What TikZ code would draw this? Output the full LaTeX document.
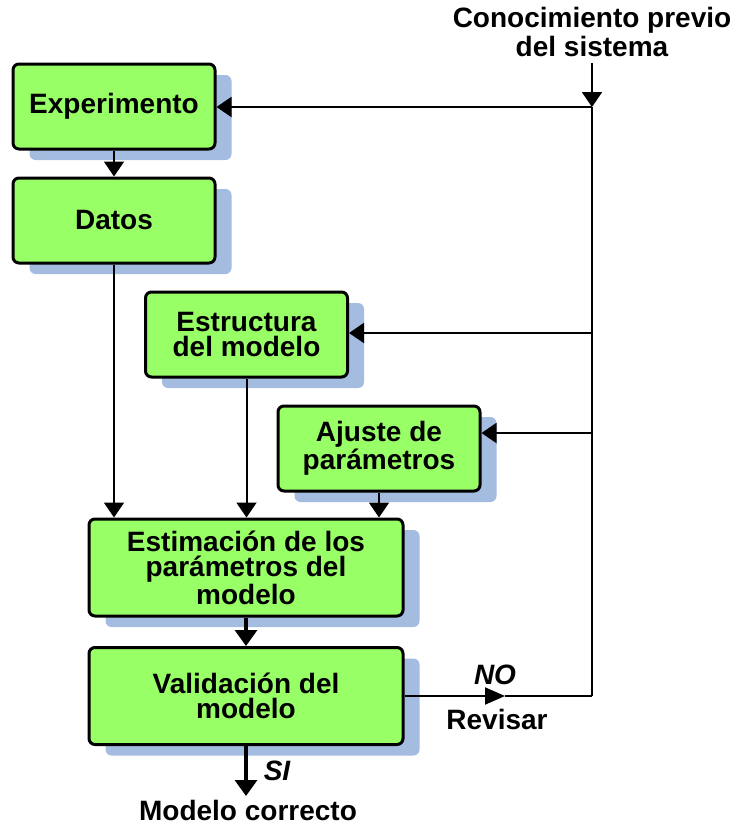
\documentclass[tikz,border=0pt]{standalone}
\usepackage{fontspec}
\setmainfont{Liberation Sans}
\usetikzlibrary{arrows.meta,shadows}
\definecolor{boxgreen}{HTML}{99FF66}
\definecolor{shadeblue}{HTML}{A4BCE0}
\begin{document}
\begin{tikzpicture}[x=0.5pt,y=-0.5pt,
  font=\fontsize{14}{12.5}\selectfont\bfseries,
  blk/.style={draw=black, line width=1.5pt, fill=boxgreen, rounded corners=3pt,
    align=center, inner sep=0pt,
    general shadow={fill=shadeblue, shadow xshift=8.25pt, shadow yshift=-5.5pt}},
  small/.style={blk, minimum width=101pt, minimum height=42.5pt},
  big/.style={blk, minimum width=157pt, minimum height=48.5pt},
  conn/.style={line width=1pt},
  arr/.style={conn, -{Triangle[length=7.5pt,width=10pt]}},
  thickarr/.style={line width=1.7pt, -{Triangle[length=8pt,width=11pt]}},
  midarr/.style={conn, -{Triangle[length=10pt,width=8.5pt]}},
  lbl/.style={align=center, inner sep=0pt}
]
\useasboundingbox (0,0) rectangle (729,825);

\node[small] (exp) at (114,106.5) {Experimento};
\node[small] (dat) at (114,220.5) {Datos};
\node[small] (est) at (246.5,334.5) {Estructura\\del modelo};
\node[small] (aju) at (379,448.5) {Ajuste de\\parámetros};
\node[big] (estim) at (246,567.5) {Estimación de los\\parámetros del\\modelo};
\node[big] (val) at (246,696) {Validación del\\modelo};

\node[lbl] (con) at (592,32) {Conocimiento previo\\del sistema};
\coordinate (top) at (592,63);
\coordinate (j1) at (592,107);
\coordinate (j2) at (592,333);
\coordinate (j3) at (592,433);
\coordinate (cr) at (592,696);
\coordinate (mid) at (505,696);
\coordinate (siend) at (246,796);

\node[lbl] (no) at (495,675) {\itshape NO};
\node[lbl] (rev) at (497,719) {Revisar};
\node[lbl] (si) at (277,771) {\itshape SI};
\node[lbl] (mc) at (248,810) {Modelo correcto};

\draw[arr] (top) -- (j1);
\draw[conn] (j1) -- (cr);
\draw[arr] (j1) -- (exp.east |- j1);
\draw[arr] (j2) -- (est.east |- j2);
\draw[arr] (j3) -- (aju.east |- j3);
\draw[midarr] (val.east) -- (mid);
\draw[conn] (mid) -- (cr);

\draw[arr] (exp.south) -- (dat.north);
\draw[arr] (dat.south) -- (dat.south |- estim.north);
\draw[arr] (est.south) -- (est.south |- estim.north);
\draw[arr] (aju.south) -- (aju.south |- estim.north);
\draw[thickarr] (estim.south) -- (val.north);
\draw[thickarr] (val.south) -- (siend);
\end{tikzpicture}
\end{document}
